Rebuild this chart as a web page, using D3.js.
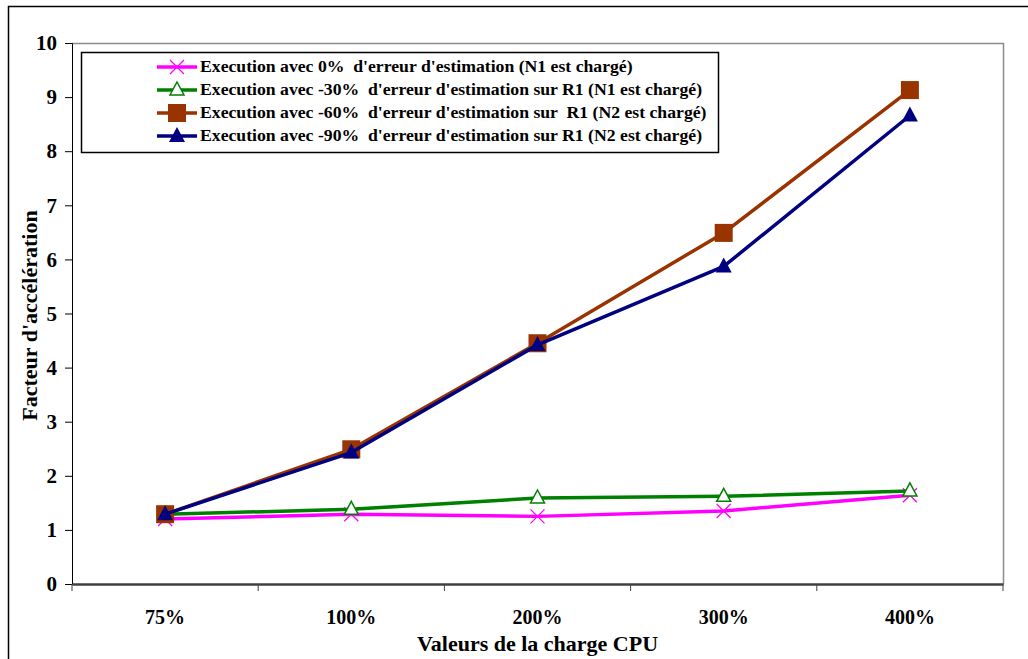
<!DOCTYPE html>
<html>
<head>
<meta charset="utf-8">
<script src="https://cdn.jsdelivr.net/npm/d3@7"></script>
<style>
  body { margin: 0; background: #fff; }
</style>
</head>
<body>
<svg id="chart" width="1028" height="659"></svg>
<script>
var categories = ['75%', '100%', '200%', '300%', '400%']
var yTicks = [0, 1, 2, 3, 4, 5, 6, 7, 8, 9, 10]
var seriesNames = [
    "Execution avec 0%  d'erreur d'estimation (N1 est chargé)",
    "Execution avec -30%  d'erreur d'estimation sur R1 (N1 est chargé)",
    "Execution avec -60%  d'erreur d'estimation sur  R1 (N2 est chargé)",
    "Execution avec -90%  d'erreur d'estimation sur R1 (N2 est chargé)"
]
var err0 = [1.20, 1.29, 1.25, 1.35, 1.64]
var err30 = [1.29, 1.38, 1.59, 1.62, 1.72]
var err60 = [1.29, 2.49, 4.45, 6.49, 9.13]
var err90 = [1.29, 2.43, 4.42, 5.87, 8.66]
var colors = ['#ff00ff', '#008000', '#993300', '#000080']
var markers = ['cross', 'opentri', 'square', 'tri']
var FONT = '"Liberation Serif", "Times New Roman", Times, serif'

var svg = d3.select('#chart')
var margin = { left: 72, top: 43, right: 1003, bottom: 584 }

// outer frame
svg.append('rect').attr('x', 8.5).attr('y', 6.5).attr('width', 1040).attr('height', 680)
    .attr('fill', 'none').attr('stroke', '#000').attr('stroke-width', 1.5)

var xscale = d3.scaleBand().domain(categories).range([margin.left, margin.right])
var yscale = d3.scaleLinear().domain([0, 10]).range([margin.bottom, margin.top])

// plot border (top & right gray)
svg.append('path')
    .attr('d', 'M' + margin.left + ',' + (margin.top + 0.5) + 'H' + (margin.right + 0.5) + 'V' + margin.bottom)
    .attr('fill', 'none').attr('stroke', '#8c8c8c').attr('stroke-width', 1.5)

// y axis
var yg = svg.append('g').attr('transform', 'translate(' + margin.left + ',0)')
    .call(d3.axisLeft(yscale).tickValues(yTicks).tickSize(7).tickPadding(8).tickFormat(d3.format('d')))
yg.attr('font-family', null)
yg.selectAll('text').style('font-family', FONT).style('font-weight', 'bold').attr('font-size', 21).attr('fill', '#000')
yg.select('.domain').attr('stroke', '#000')

// x axis
var xg = svg.append('g').attr('transform', 'translate(0,' + margin.bottom + ')')
    .call(d3.axisBottom(xscale).tickSize(0).tickPadding(26))
xg.attr('font-family', null)
xg.selectAll('text').style('font-family', FONT).style('font-weight', 'bold').attr('font-size', 20).attr('fill', '#000')
xg.select('.domain').attr('stroke', '#404040').attr('stroke-width', 2.5)
var bounds = categories.map(function (c) { return xscale(c) }).concat([margin.right])
xg.selectAll('line.sep').data(bounds).enter().append('line').attr('class', 'sep')
    .attr('x1', d => d).attr('x2', d => d).attr('y1', 0).attr('y2', 7)
    .attr('stroke', '#404040').attr('stroke-width', 1)

// axis titles
svg.append('text').text('Valeurs de la charge CPU')
    .attr('x', (margin.left + margin.right) / 2).attr('y', 651)
    .attr('text-anchor', 'middle').attr('font-size', 22)
    .style('font-family', FONT).style('font-weight', 'bold')
svg.append('text').text("Facteur d'accélération")
    .attr('transform', 'translate(37,' + ((margin.top + margin.bottom) / 2 + 2) + ') rotate(-90)')
    .attr('text-anchor', 'middle').attr('font-size', 22)
    .style('font-family', FONT).style('font-weight', 'bold')

function drawMarker(g, type, color, x, y) {
    if (type == 'cross') {
        g.append('path').attr('d', 'M' + (x - 7) + ',' + (y - 7) + 'L' + (x + 7) + ',' + (y + 7) + 'M' + (x - 7) + ',' + (y + 7) + 'L' + (x + 7) + ',' + (y - 7))
            .attr('stroke', color).attr('stroke-width', 1.3).attr('fill', 'none')
    } else if (type == 'opentri') {
        g.append('path').attr('d', 'M' + x + ',' + (y - 8) + 'L' + (x + 7) + ',' + (y + 5) + 'L' + (x - 7) + ',' + (y + 5) + 'Z')
            .attr('stroke', color).attr('stroke-width', 1.5).attr('fill', '#fff')
    } else if (type == 'square') {
        g.append('rect').attr('x', x - 9).attr('y', y - 9).attr('width', 18).attr('height', 18).attr('fill', color)
    } else {
        g.append('path').attr('d', 'M' + x + ',' + (y - 9) + 'L' + (x + 8) + ',' + (y + 6) + 'L' + (x - 8) + ',' + (y + 6) + 'Z')
            .attr('fill', color)
    }
}

var allSeries = [err0, err30, err60, err90]
var line = d3.line().x((d, i) => xscale(categories[i]) + xscale.bandwidth() / 2).y(d => yscale(d))
allSeries.forEach(function (s, k) {
    var g = svg.append('g')
    g.append('path').datum(s).attr('d', line).attr('fill', 'none')
        .attr('stroke', colors[k]).attr('stroke-width', 3.5).attr('stroke-linejoin', 'round')
    s.forEach(function (v, i) {
        drawMarker(g, markers[k], colors[k], xscale(categories[i]) + xscale.bandwidth() / 2, yscale(v))
    })
})

// legend
var lg = svg.append('g')
lg.append('rect').attr('x', 81.5).attr('y', 52.5).attr('width', 637).attr('height', 100)
    .attr('fill', '#fff').attr('stroke', '#000').attr('stroke-width', 1.5)
seriesNames.forEach(function (name, k) {
    var y = 67 + k * 23
    lg.append('line').attr('x1', 157).attr('x2', 197).attr('y1', y).attr('y2', y)
        .attr('stroke', colors[k]).attr('stroke-width', 3.5)
    drawMarker(lg, markers[k], colors[k], 177, y)
    lg.append('text').text(name).attr('x', 200).attr('y', y + 5).attr('font-size', 17.7)
        .style('font-family', FONT).style('font-weight', 'bold').style('white-space', 'pre')
})
</script>
</body>
</html>
